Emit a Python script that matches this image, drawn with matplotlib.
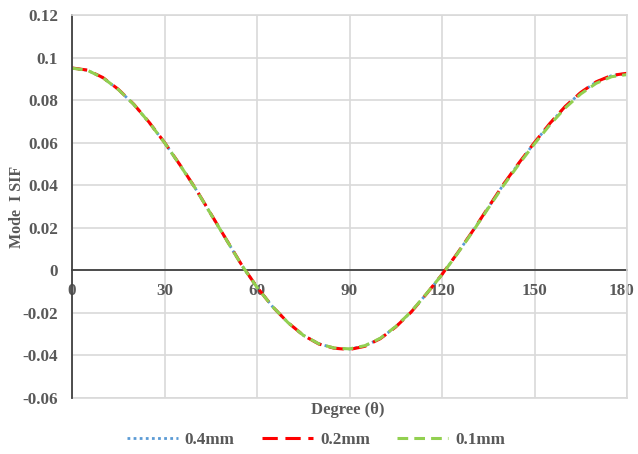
import matplotlib
matplotlib.use("Agg")
import matplotlib.pyplot as plt
import matplotlib.transforms as mtransforms

theta = [0, 5, 10, 15, 20, 25, 30, 35, 40, 45, 50, 55, 60, 65, 70, 75, 80, 85, 90,
         95, 100, 105, 110, 115, 120, 125, 130, 135, 140, 145, 150, 155, 160, 165, 170, 175, 180]
sif_04 = [0.0950, 0.0940, 0.0905, 0.0850, 0.0780, 0.0695, 0.0600, 0.0495, 0.0385, 0.0265,
          0.0145, 0.0025, -0.0080, -0.0170, -0.0245, -0.0305, -0.0345, -0.0365, -0.0370,
          -0.0355, -0.0320, -0.0265, -0.0195, -0.0110, -0.0020, 0.0080, 0.0185, 0.0295,
          0.0405, 0.0505, 0.0600, 0.0690, 0.0770, 0.0835, 0.0885, 0.0915, 0.0925]
sif_02 = [0.0951, 0.0941, 0.0906, 0.0851, 0.0781, 0.0696, 0.0601, 0.0496, 0.0386, 0.0266,
          0.0146, 0.0026, -0.0079, -0.0170, -0.0245, -0.0305, -0.0346, -0.0366, -0.0372,
          -0.0357, -0.0321, -0.0266, -0.0196, -0.0110, -0.0019, 0.0081, 0.0186, 0.0296,
          0.0406, 0.0506, 0.0601, 0.0691, 0.0771, 0.0836, 0.0886, 0.0916, 0.0926]
sif_01 = [0.0950, 0.0940, 0.0905, 0.0850, 0.0780, 0.0695, 0.0600, 0.0495, 0.0385, 0.0265,
          0.0145, 0.0025, -0.0080, -0.0170, -0.0245, -0.0305, -0.0345, -0.0365, -0.0369,
          -0.0354, -0.0319, -0.0264, -0.0194, -0.0109, -0.0020, 0.0079, 0.0183, 0.0292,
          0.0400, 0.0500, 0.0595, 0.0684, 0.0764, 0.0829, 0.0879, 0.0910, 0.0920]
labels = ["0.4mm", "0.2mm", "0.1mm"]
xticks = [0, 30, 60, 90, 120, 150, 180]
yticks = [-0.06, -0.04, -0.02, 0, 0.02, 0.04, 0.06, 0.08, 0.1, 0.12]
ytick_labels = ["-0.06", "-0.04", "-0.02", "0", "0.02", "0.04", "0.06", "0.08", "0.1", "0.12"]

plt.rcParams['font.family'] = ['Liberation Serif', 'DejaVu Serif']
plt.rcParams['font.weight'] = 'bold'

fig = plt.figure(figsize=(6.38, 4.54), dpi=100)
ax = fig.add_axes([0.1129, 0.1233, 0.8699, 0.8437])

ax.plot(theta, sif_04, color='#5b9bd5', linestyle=(0, (1, 1.2)), linewidth=2.0, label=labels[0])
ax.plot(theta, sif_02, color='#ff0000', linestyle=(0, (5, 2.5)), linewidth=2.2, label=labels[1])
ax.plot(theta, sif_01, color='#92d050', linestyle=(0, (3.5, 2)), linewidth=2.2, label=labels[2])

ax.set_xlim(0, 180)
ax.set_ylim(-0.06, 0.12)
ax.set_xticks(xticks)
ax.set_xticklabels([str(t) for t in xticks])
ax.set_yticks(yticks)
ax.set_yticklabels(ytick_labels)

ax.grid(True, color='#d9d9d9', linewidth=1.2)
ax.set_axisbelow(True)

ax.spines['bottom'].set_position(('data', 0))
ax.spines['bottom'].set_color('#404040')
ax.spines['bottom'].set_linewidth(1.3)
ax.spines['bottom'].set_zorder(1.5)
ax.spines['left'].set_color('#404040')
ax.spines['left'].set_linewidth(1.3)
ax.spines['top'].set_color('#d9d9d9')
ax.spines['right'].set_color('#d9d9d9')
ax.spines['top'].set_linewidth(1.2)
ax.spines['right'].set_linewidth(1.2)

ax.tick_params(axis='both', length=0, labelsize=12.3, labelcolor='#595959')
ax.tick_params(axis='x', pad=9)
ax.tick_params(axis='y', pad=10)

# keep the last x tick label inside the figure
last = ax.get_xticklabels()[-1]
last.set_transform(last.get_transform() +
                   mtransforms.ScaledTranslation(-6 / 100, 0, fig.dpi_scale_trans))

ax.axhline(-0.06, color='#d9d9d9', linewidth=1.2, zorder=0.5, clip_on=False)

fig.text(0.545, 0.097, "Degree (θ)", ha='center', va='center', fontsize=12,
         fontweight='bold', color='#595959')
fig.text(0.026, 0.545, "Mode  I SIF", ha='center', va='center', rotation=90,
         fontsize=11.5, fontweight='bold', color='#595959')

leg = fig.legend(loc='center', bbox_to_anchor=(0.495, 0.03), ncol=3, frameon=False,
                 fontsize=12.3, handlelength=3.0, columnspacing=1.6, handletextpad=0.4)
for t in leg.get_texts():
    t.set_color('#595959')

fig.savefig("out.png", dpi=100)
